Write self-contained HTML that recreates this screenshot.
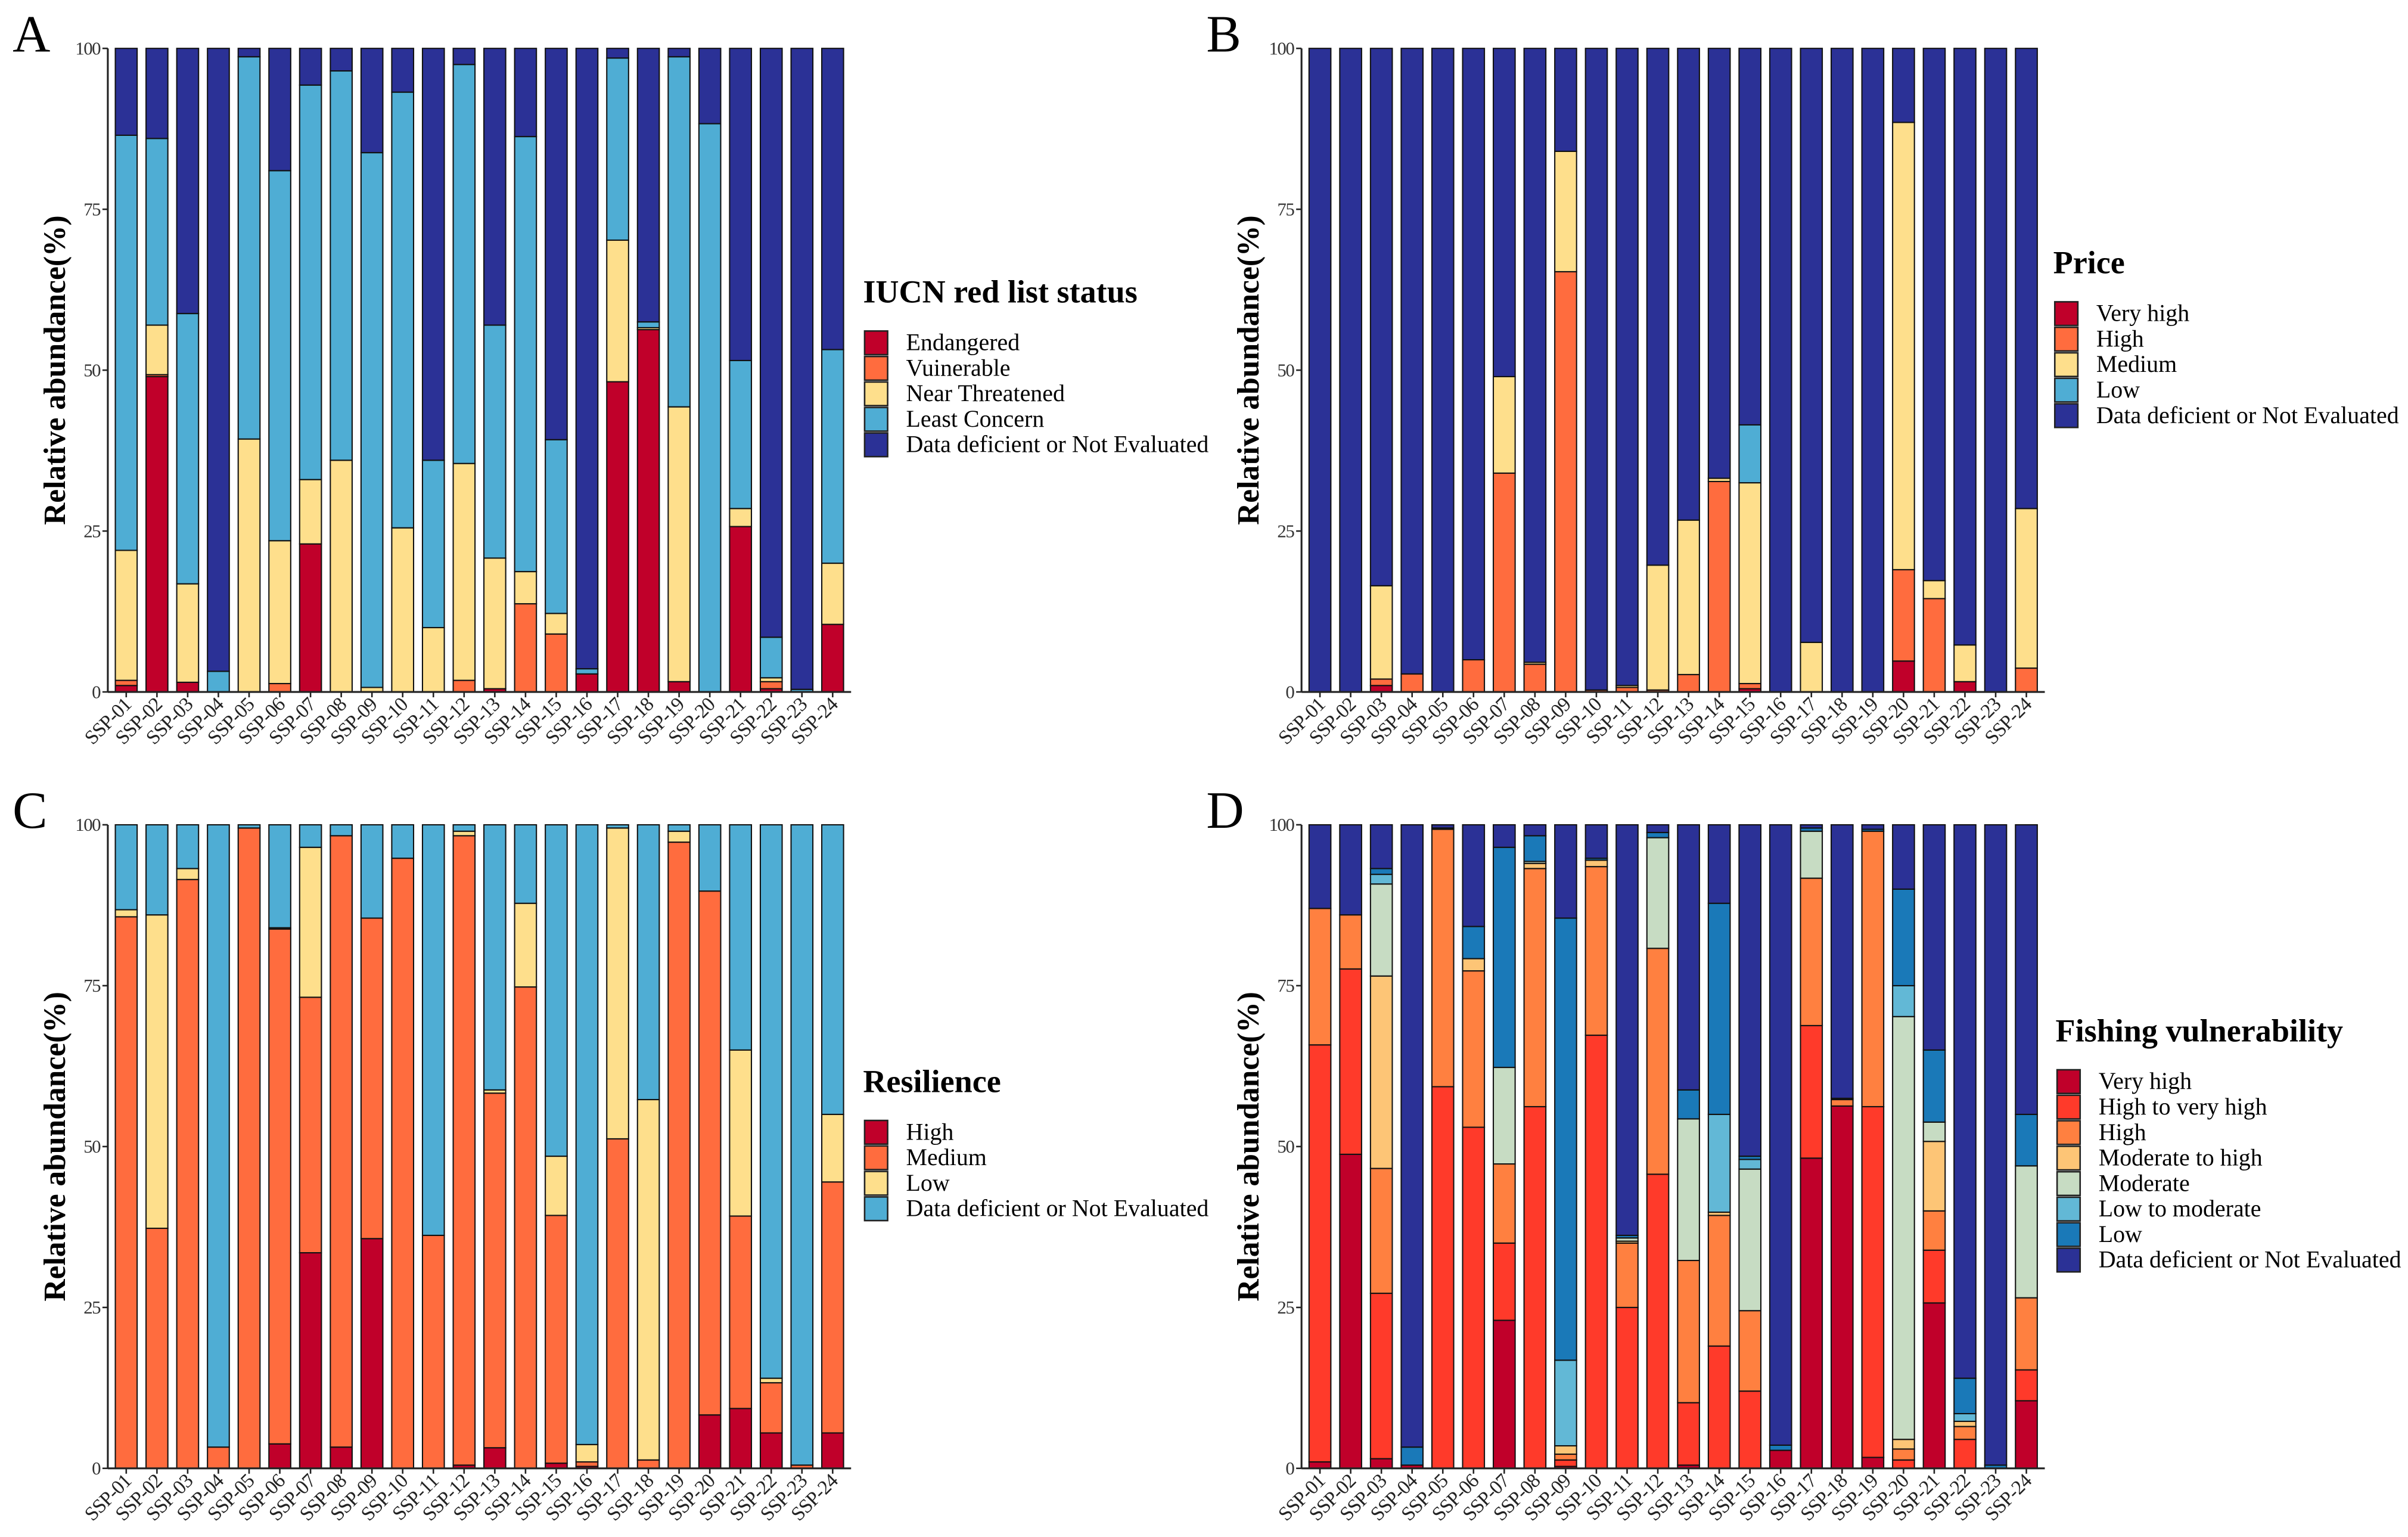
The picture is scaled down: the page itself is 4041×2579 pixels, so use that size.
<!DOCTYPE html>
<html><head><meta charset="utf-8"><style>
html,body{margin:0;padding:0;background:#fff;}
svg{display:block;font-family:"Liberation Serif","DejaVu Serif",serif;}
.bold{font-family:"Liberation Serif","DejaVu Serif",serif;font-weight:bold;}
</style></head><body>
<svg id="fig" width="4041" height="2579" viewBox="0 0 1568 1000.7" xmlns="http://www.w3.org/2000/svg">
<rect width="1568" height="1000.7" fill="#fff"/>
</svg>
<script>
const sites = ["SSP-01","SSP-02","SSP-03","SSP-04","SSP-05","SSP-06","SSP-07","SSP-08","SSP-09","SSP-10","SSP-11","SSP-12","SSP-13","SSP-14","SSP-15","SSP-16","SSP-17","SSP-18","SSP-19","SSP-20","SSP-21","SSP-22","SSP-23","SSP-24"];
const yTicks = [0,25,50,75,100];

// Panel A: IUCN
const iucnLabels = ["Endangered","Vuinerable","Near Threatened","Least Concern","Data deficient or Not Evaluated"];
const iucnEndangered = [1,49,1.5,0,0,0,23,0,0,0,0,0,0.5,0,0,2.8,48.2,56.3,1.6,0,25.7,0.5,0,10.5];
const iucnVulnerable = [0.8,0.3,0,0,0,1.3,0,0,0,0,0,1.8,0,13.7,9,0,0,0,0,0,0,1.1,0,0];
const iucnNearThreatened = [20.2,7.7,15.3,0,39.3,22.2,10,36,0.7,25.5,10,33.7,20.3,5,3.2,0,22,0.3,42.7,0,2.8,0.6,0,9.5];
const iucnLeastConcern = [64.5,29,42,3.2,59.4,57.5,61.3,60.5,83.1,67.7,26,62,36.2,67.6,27,0.8,28.3,0.9,54.4,88.3,23,6.3,0.4,33.2];
const iucnDataDeficient = [13.5,14,41.2,96.8,1.3,19,5.7,3.5,16.2,6.8,64,2.5,43,13.7,60.8,96.4,1.5,42.5,1.3,11.7,48.5,91.5,99.6,46.8];

// Panel B: Price
const priceLabels = ["Very high","High","Medium","Low","Data deficient or Not Evaluated"];
const priceVeryHigh = [0,0,1,0,0,0,0,0,0,0,0,0,0,0,0.5,0,0,0,0,4.8,0,1.6,0,0];
const priceHigh = [0,0,1,2.8,0,5,34,4.3,65.3,0.3,0.7,0.3,2.7,32.7,0.8,0,0,0,0,14.2,14.5,0,0,3.7];
const priceMedium = [0,0,14.5,0,0,0,15,0.3,18.7,0,0.3,19.4,24,0.5,31.2,0,7.7,0,0,69.5,2.8,5.7,0,24.8];
const priceLow = [0,0,0,0,0,0,0,0,0,0,0,0,0,0,9,0,0,0,0,0,0,0,0,0];
const priceDataDeficient = [100,100,83.5,97.2,100,95,51,95.4,16,99.7,99,80.3,73.3,66.8,58.5,100,92.3,100,100,11.5,82.7,92.7,100,71.5];

// Panel C: Resilience
const resLabels = ["High","Medium","Low","Data deficient or Not Evaluated"];
const resHigh = [0,0,0,0,0,3.8,33.5,3.3,35.7,0,0,0.5,3.2,0,0.8,0.3,0,0,0,8.3,9.3,5.5,0,5.5];
const resMedium = [85.7,37.3,91.5,3.3,99.5,80,39.7,95,49.8,94.8,36.2,97.8,55.1,74.8,38.5,0.7,51.2,1.3,97.3,81.4,29.9,7.8,0.5,39];
const resLow = [1.1,48.7,1.7,0,0,0.2,23.3,0,0,0,0,0.7,0.5,13,9.2,2.7,48.3,56,1.7,0,25.8,0.7,0,10.5];
const resDataDeficient = [13.2,14,6.8,96.7,0.5,16,3.5,1.7,14.5,5.2,63.8,1,41.2,12.2,51.5,96.3,0.5,42.7,1,10.3,35,86,99.5,45];

// Panel D: Fishing vulnerability
const fvLabels = ["Very high","High to very high","High","Moderate to high","Moderate","Low to moderate","Low","Data deficient or Not Evaluated"];
const fvVeryHigh = [1,48.8,1.5,0.5,0,0,23,0,0.3,0,0,0,0.5,0,0,2.8,48.2,56.3,1.7,0,25.7,0,0,10.5];
const fvHighToVeryHigh = [64.8,28.8,25.7,0,59.3,53,12,56.2,1,67.3,25,45.7,9.7,19,12,0,20.6,0,54.5,1.3,8.2,4.5,0,4.8];
const fvHigh = [21.2,8.4,19.4,0,40,24.3,12.3,37,0.9,26.2,10,35.1,22.1,20.3,12.5,0,22.9,1,42.8,1.7,6.1,2,0,11.2];
const fvModerateToHigh = [0,0,29.9,0,0,1.9,0,0.8,1.3,1,0.3,0,0,0.5,0,0,0,0,0,1.5,10.8,0.8,0,0];
const fvModerate = [0,0,14.3,0,0,0,15,0.3,0,0,0.5,17.2,22,0,22,0,7.3,0,0,65.7,3,0,0,20.5];
const fvLowToModerate = [0,0,1.5,0,0,0,0,0,13.3,0,0,0,0,15.2,1.5,0,0,0,0,4.8,0,1.2,0,0];
const fvLow = [0,0,0.9,2.8,0.2,5,34.2,4,68.7,0.3,0.4,0.8,4.5,32.8,0.5,0.8,0.5,0.2,0.3,15,11.2,5.5,0.5,8];
const fvDataDeficient = [13,14,6.8,96.7,0.5,15.8,3.5,1.7,14.5,5.2,63.8,1.2,41.2,12.2,51.5,96.4,0.5,42.5,0.7,10,35,86,99.5,45];

const NS = "http://www.w3.org/2000/svg";
const svg = document.getElementById("fig");
function mk(tag, attrs, parent, text){
  const e = document.createElementNS(NS, tag);
  for (const k in attrs) e.setAttribute(k, attrs[k]);
  if (text !== undefined) e.textContent = text;
  (parent || svg).appendChild(e);
  return e;
}

function panel(cfg){
  const g = mk("g", {});
  
  
  const x0 = cfg.x0, yTop = cfg.yTop, yBot = cfg.yBot, step = 20.0, bw = 14.2;
  const yS = v => yBot - (v/100)*(yBot - yTop);
  const xS = i => x0 + (i + 0.6) * step;
  const xEnd = x0 + 24.2 * step;
  const L = mk("text", {x: cfg.x0 - 62, y: yTop + 2, "font-size": 34}, g, cfg.letter);
  
  
  sites.forEach((s, i) => {
    let cum = 0;
    cfg.series.forEach((arr, k) => {
      const v = arr[i];
      if (v <= 0) return;
      const r = mk("rect", {x: xS(i) - bw/2, y: yS(cum + v), width: bw, height: Math.max(0, yS(cum) - yS(cum + v)), fill: cfg.colors[k], stroke: "#111", "stroke-width": 0.8}, g);
      
      
      cum += v;
    });
  });
  const ya = mk("line", {x1: x0, y1: yTop, x2: x0, y2: yBot, stroke: "#222", "stroke-width": 1.2}, g);
  
  
  const xa = mk("line", {x1: x0, y1: yBot, x2: xEnd, y2: yBot, stroke: "#222", "stroke-width": 1.2}, g);
  
  
  yTicks.forEach(t => {
    mk("line", {x1: x0 - 3.5, y1: yS(t), x2: x0, y2: yS(t), stroke: "#222", "stroke-width": 1}, g);
    const tl = mk("text", {x: x0 - 5, y: yS(t) + 4, "font-size": 12, "text-anchor": "end", fill: "#333", "letter-spacing": -0.6}, g, String(t));
    
    
  });
  sites.forEach((s, i) => {
    mk("line", {x1: xS(i), y1: yBot, x2: xS(i), y2: yBot + 3.5, stroke: "#222", "stroke-width": 1}, g);
    const xt = mk("text", {x: 0, y: 0, "font-size": 13, "text-anchor": "end", fill: "#222", "letter-spacing": -0.4,
      transform: `translate(${xS(i) + 4},${yBot + 9}) rotate(-45)`}, g, s);
    
    
  });
  const yt = mk("text", {x: 0, y: 0, "font-size": 20, "class": "bold", "text-anchor": "middle",
    transform: `translate(${x0 - 28},${(yTop + yBot)/2}) rotate(-90)`}, g, "Relative abundance(%)");
  
  
  const lg = mk("g", {}, g);
  
  
  const lt = mk("text", {x: cfg.legX, y: cfg.legY, "font-size": 21, "class": "bold"}, lg, cfg.title);
  
  
  cfg.labels.forEach((lab, k) => {
    const ky = cfg.legY + 18.5 + k * 16.6;
    const kr = mk("rect", {x: cfg.legX + 1, y: ky, width: 15, height: 15.4, fill: cfg.colors[k], stroke: "#222", "stroke-width": 1}, lg);
    
    
    const kt = mk("text", {x: cfg.legX + 28, y: ky + 12.5, "font-size": 15.5}, lg, lab);
    
    
  });
}

const C_RED = "#C0002A", C_OR = "#FF6C3E", C_YEL = "#FEDF8C", C_LB = "#4FADD4", C_DB = "#2B3196";

panel({name: "panel-a-iucn", letter: "A", x0: 70.2, yTop: 31.5, yBot: 450.5, legX: 562, legY: 197,
  title: "IUCN red list status", labels: iucnLabels,
  series: [iucnEndangered, iucnVulnerable, iucnNearThreatened, iucnLeastConcern, iucnDataDeficient],
  colors: [C_RED, C_OR, C_YEL, C_LB, C_DB]});
panel({name: "panel-b-price", letter: "B", x0: 847.5, yTop: 31.5, yBot: 450.5, legX: 1337, legY: 178,
  title: "Price", labels: priceLabels,
  series: [priceVeryHigh, priceHigh, priceMedium, priceLow, priceDataDeficient],
  colors: [C_RED, C_OR, C_YEL, C_LB, C_DB]});
panel({name: "panel-c-resilience", letter: "C", x0: 70.2, yTop: 537, yBot: 956, legX: 562, legY: 711,
  title: "Resilience", labels: resLabels,
  series: [resHigh, resMedium, resLow, resDataDeficient],
  colors: [C_RED, C_OR, C_YEL, C_LB]});
panel({name: "panel-d-fishing", letter: "D", x0: 847.5, yTop: 537, yBot: 956, legX: 1338.5, legY: 678,
  title: "Fishing vulnerability", labels: fvLabels,
  series: [fvVeryHigh, fvHighToVeryHigh, fvHigh, fvModerateToHigh, fvModerate, fvLowToModerate, fvLow, fvDataDeficient],
  colors: ["#C0002A", "#FF3A2A", "#FF8040", "#FDC576", "#C7DCC3", "#62B8D6", "#1A79B8", "#2B3196"]});
</script>
</body></html>
